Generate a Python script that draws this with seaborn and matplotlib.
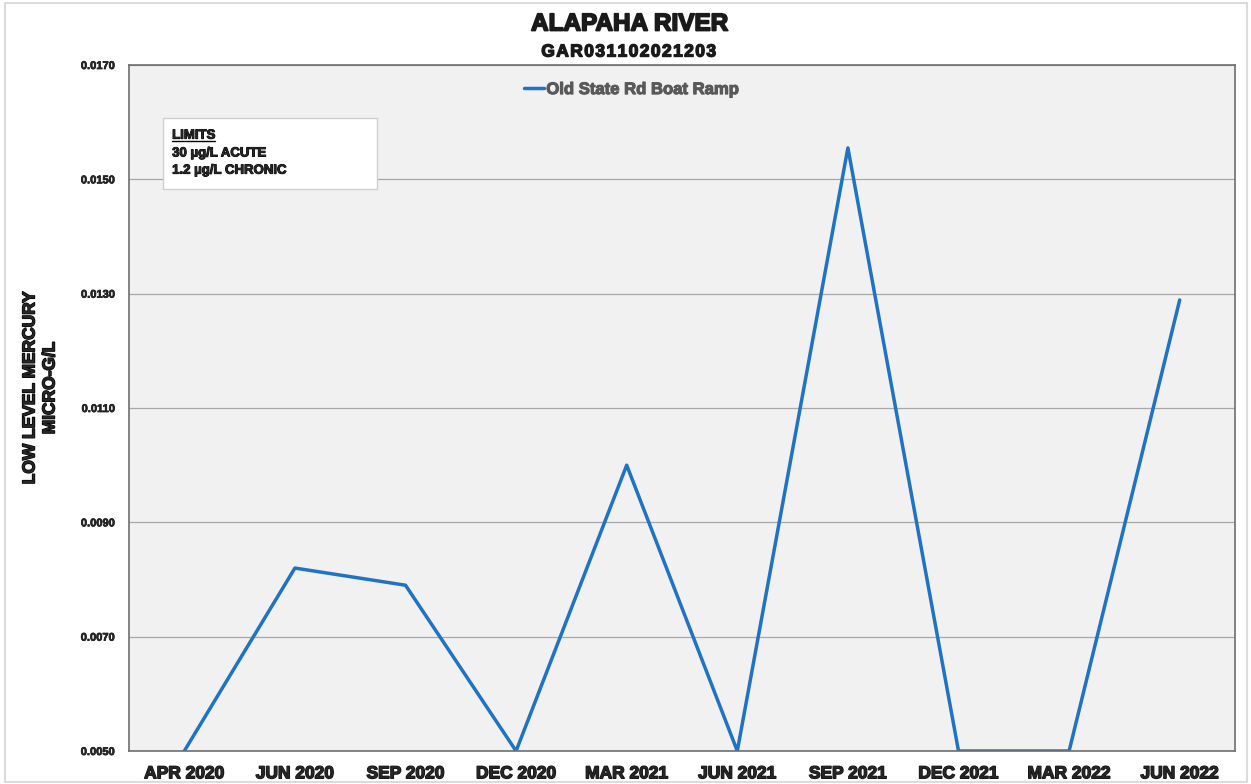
import matplotlib
matplotlib.use('Agg')
import matplotlib.pyplot as plt
import matplotlib.patheffects as pe
import seaborn as sns
import pandas as pd

# 数据
dates = ['APR 2020', 'JUN 2020', 'SEP 2020', 'DEC 2020', 'MAR 2021',
         'JUN 2021', 'SEP 2021', 'DEC 2021', 'MAR 2022', 'JUN 2022']
mercury = [0.0050, 0.0082, 0.0079, 0.0050, 0.0100,
           0.0050, 0.01555, 0.0050, 0.0050, 0.01289]
site = 'Old State Rd Boat Ramp'
y_ticks = [0.0050, 0.0070, 0.0090, 0.0110, 0.0130, 0.0150, 0.0170]

sns.set_theme(style='white')
plt.rcParams['font.family'] = ['Liberation Sans', 'DejaVu Sans']
plt.rcParams['font.weight'] = 'bold'


def heavy(color='black', w=0.9):
    # 加粗描边，模拟 Arial Black
    return [pe.withStroke(linewidth=w, foreground=color)]


df = pd.DataFrame({'date': dates, 'value': mercury, 'site': site})

fig = plt.figure(figsize=(12.51, 7.84), dpi=100)
fig.patch.set_facecolor('white')

# 外框
fig.add_artist(plt.Rectangle((5 / 1251, 2 / 784), 1242 / 1251, 779 / 784,
                             transform=fig.transFigure, fill=False,
                             edgecolor='#dcdcdc', linewidth=1.5))

ax = fig.add_axes([129 / 1251, 1 - 751 / 784, (1235 - 129) / 1251, (751 - 65) / 784])
ax.set_facecolor('#f1f1f1')

sns.lineplot(data=df, x='date', y='value', hue='site', palette=['#1f72c4'],
             linewidth=2.5, sort=False, ax=ax)

ax.set_xlim(-0.5, len(dates) - 0.5)
ax.set_ylim(0.005, 0.017)
ax.set_yticks(y_ticks)
ax.set_yticklabels([f'{v:.4f}' for v in y_ticks], fontsize=8, fontweight='bold')
ax.set_xticks(range(len(dates)))
ax.set_xticklabels(dates, fontsize=12.5, fontweight='bold')
for t in ax.get_xticklabels():
    t.set_path_effects(heavy('#111111', 1.0))
for t in ax.get_yticklabels():
    t.set_path_effects(heavy('#111111', 0.5))
ax.tick_params(axis='x', length=0, pad=11)
ax.tick_params(axis='y', length=0, pad=10)
ax.yaxis.grid(True, color='#a8a8a8', linewidth=0.9)
ax.set_axisbelow(True)
ax.set_xlabel('')
ax.set_ylabel('')
for s in ax.spines.values():
    s.set_color('#6e6e6e')
    s.set_linewidth(1.2)

leg = ax.legend(loc='upper center', bbox_to_anchor=(0.454, 0.997), frameon=False,
                handlelength=1.2, handletextpad=0.15, fontsize=12)
for t in leg.get_texts():
    t.set_color('#595959')
    t.set_fontweight('bold')
    t.set_path_effects(heavy('#595959', 0.8))

# 标题
fig.text(0.503, 1 - 24 / 784, 'ALAPAHA RIVER', ha='center', va='center',
         fontsize=17.5, fontweight='bold', color='#1a1a1a',
         path_effects=heavy('#1a1a1a', 1.3))
fig.text(0.503, 1 - 52 / 784, 'G A R 0 3 1 1 0 2 0 2 1 2 0 3'.replace(' ', '\u200a'),
         ha='center', va='center', fontsize=12.5, fontweight='bold', color='#1a1a1a',
         path_effects=heavy('#1a1a1a', 1.0))

# Y轴标签
fig.text(30 / 1251, 1 - 388 / 784, 'LOW LEVEL MERCURY', rotation=90,
         ha='center', va='center', fontsize=12.5, fontweight='bold',
         path_effects=heavy('black', 1.0))
fig.text(50 / 1251, 1 - 388 / 784, 'MICRO-G/L', rotation=90,
         ha='center', va='center', fontsize=12.5, fontweight='bold',
         path_effects=heavy('black', 1.0))

# 限值说明框
box = plt.Rectangle((0.031, 0.819), 0.193, 0.104, transform=ax.transAxes,
                    facecolor='white', edgecolor='#d0d0d0', linewidth=1)
ax.add_patch(box)
lim_txt = ax.text(0.039, 0.897, 'LIMITS', transform=ax.transAxes, fontsize=9.5,
                  fontweight='bold', va='center', path_effects=heavy('black', 0.7))
ax.text(0.039, 0.871, '30 µg/L ACUTE', transform=ax.transAxes, fontsize=9.5,
        fontweight='bold', va='center', path_effects=heavy('black', 0.7))
ax.text(0.039, 0.846, '1.2 µg/L CHRONIC', transform=ax.transAxes, fontsize=9.5,
        fontweight='bold', va='center', path_effects=heavy('black', 0.7))
fig.canvas.draw()
bb = lim_txt.get_window_extent().transformed(ax.transAxes.inverted())
ax.plot([bb.x0, bb.x1], [bb.y0 + 0.001, bb.y0 + 0.001], transform=ax.transAxes,
        color='black', linewidth=1.0)

fig.savefig('out.png', dpi=100)
